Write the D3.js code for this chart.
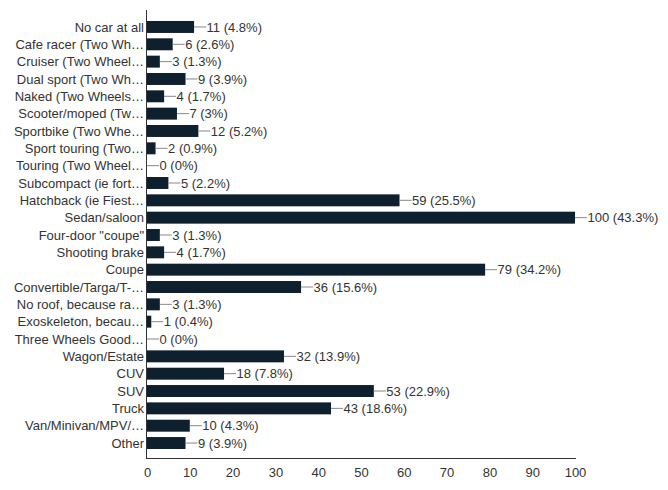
<!DOCTYPE html>
<html><head><meta charset="utf-8">
<script src="https://cdn.jsdelivr.net/npm/d3@7"></script>
<style>body{margin:0;background:#fff}svg{display:block}text{font-family:"Liberation Sans",Arial,sans-serif}</style>
</head><body><svg id="c" width="668" height="490"></svg>
<script>
const categories = ["No car at all","Cafe racer (Two Wh…","Cruiser (Two Wheel…","Dual sport (Two Wh…","Naked (Two Wheels…","Scooter/moped (Tw…","Sportbike (Two Whe…","Sport touring (Two…","Touring (Two Wheel…","Subcompact (ie fort…","Hatchback (ie Fiest…","Sedan/saloon","Four-door \"coupe\"","Shooting brake","Coupe","Convertible/Targa/T-…","No roof, because ra…","Exoskeleton, becau…","Three Wheels Good…","Wagon/Estate","CUV","SUV","Truck","Van/Minivan/MPV/…","Other"];
const values = [11,6,3,9,4,7,12,2,0,5,59,100,3,4,79,36,3,1,0,32,18,53,43,10,9];
const percents = ["4.8%","2.6%","1.3%","3.9%","1.7%","3%","5.2%","0.9%","0%","2.2%","25.5%","43.3%","1.3%","1.7%","34.2%","15.6%","1.3%","0.4%","0%","13.9%","7.8%","22.9%","18.6%","4.3%","3.9%"];
const xTicks = [0,10,20,30,40,50,60,70,80,90,100];

const svg = d3.select("#c");
const x = d3.scaleLinear().domain([0,100]).range([147,575]);
const y = d3.scaleBand().domain(categories).range([18.3,451.7]).paddingInner(0.31).paddingOuter(0.155);
const textCol = "#333";
const fs = 13;

svg.selectAll("rect.bar").data(values).enter().append("rect")
  .attr("x", x(0)).attr("y",(d,i)=>y(categories[i]))
  .attr("width", d=>x(d)-x(0)).attr("height", y.bandwidth())
  .attr("fill","#0e1f2e");

svg.selectAll("line.lead").data(values).enter().append("line")
  .attr("x1", d=>x(d)).attr("x2", d=>x(d)+12)
  .attr("y1",(d,i)=>y(categories[i])+y.bandwidth()/2)
  .attr("y2",(d,i)=>y(categories[i])+y.bandwidth()/2)
  .attr("stroke","#888").attr("stroke-width",1);

svg.selectAll("text.val").data(values).enter().append("text")
  .attr("x", d=>x(d)+12.5).attr("y",(d,i)=>y(categories[i])+y.bandwidth()/2)
  .attr("dy","0.35em").attr("font-size",fs).attr("fill",textCol)
  .text((d,i)=>d+" ("+percents[i]+")");

svg.selectAll("text.cat").data(categories).enter().append("text")
  .attr("x",144).attr("y",d=>y(d)+y.bandwidth()/2).attr("dy","0.35em")
  .attr("text-anchor","end").attr("font-size",fs).attr("fill",textCol)
  .text(d=>d);

svg.append("line").attr("x1",146.5).attr("x2",146.5).attr("y1",10).attr("y2",458.5).attr("stroke","#333");
svg.append("line").attr("x1",146).attr("x2",576).attr("y1",458.5).attr("y2",458.5).attr("stroke","#333");

const xAxis = d3.axisBottom(x).tickValues(xTicks).tickSize(0).tickPadding(9);
const gx = svg.append("g").attr("transform","translate(0,458.5)").call(xAxis);
gx.select(".domain").remove();
gx.selectAll("text").attr("font-size",fs).attr("fill",textCol).attr("font-family","Liberation Sans, Arial, sans-serif");
</script></body></html>
